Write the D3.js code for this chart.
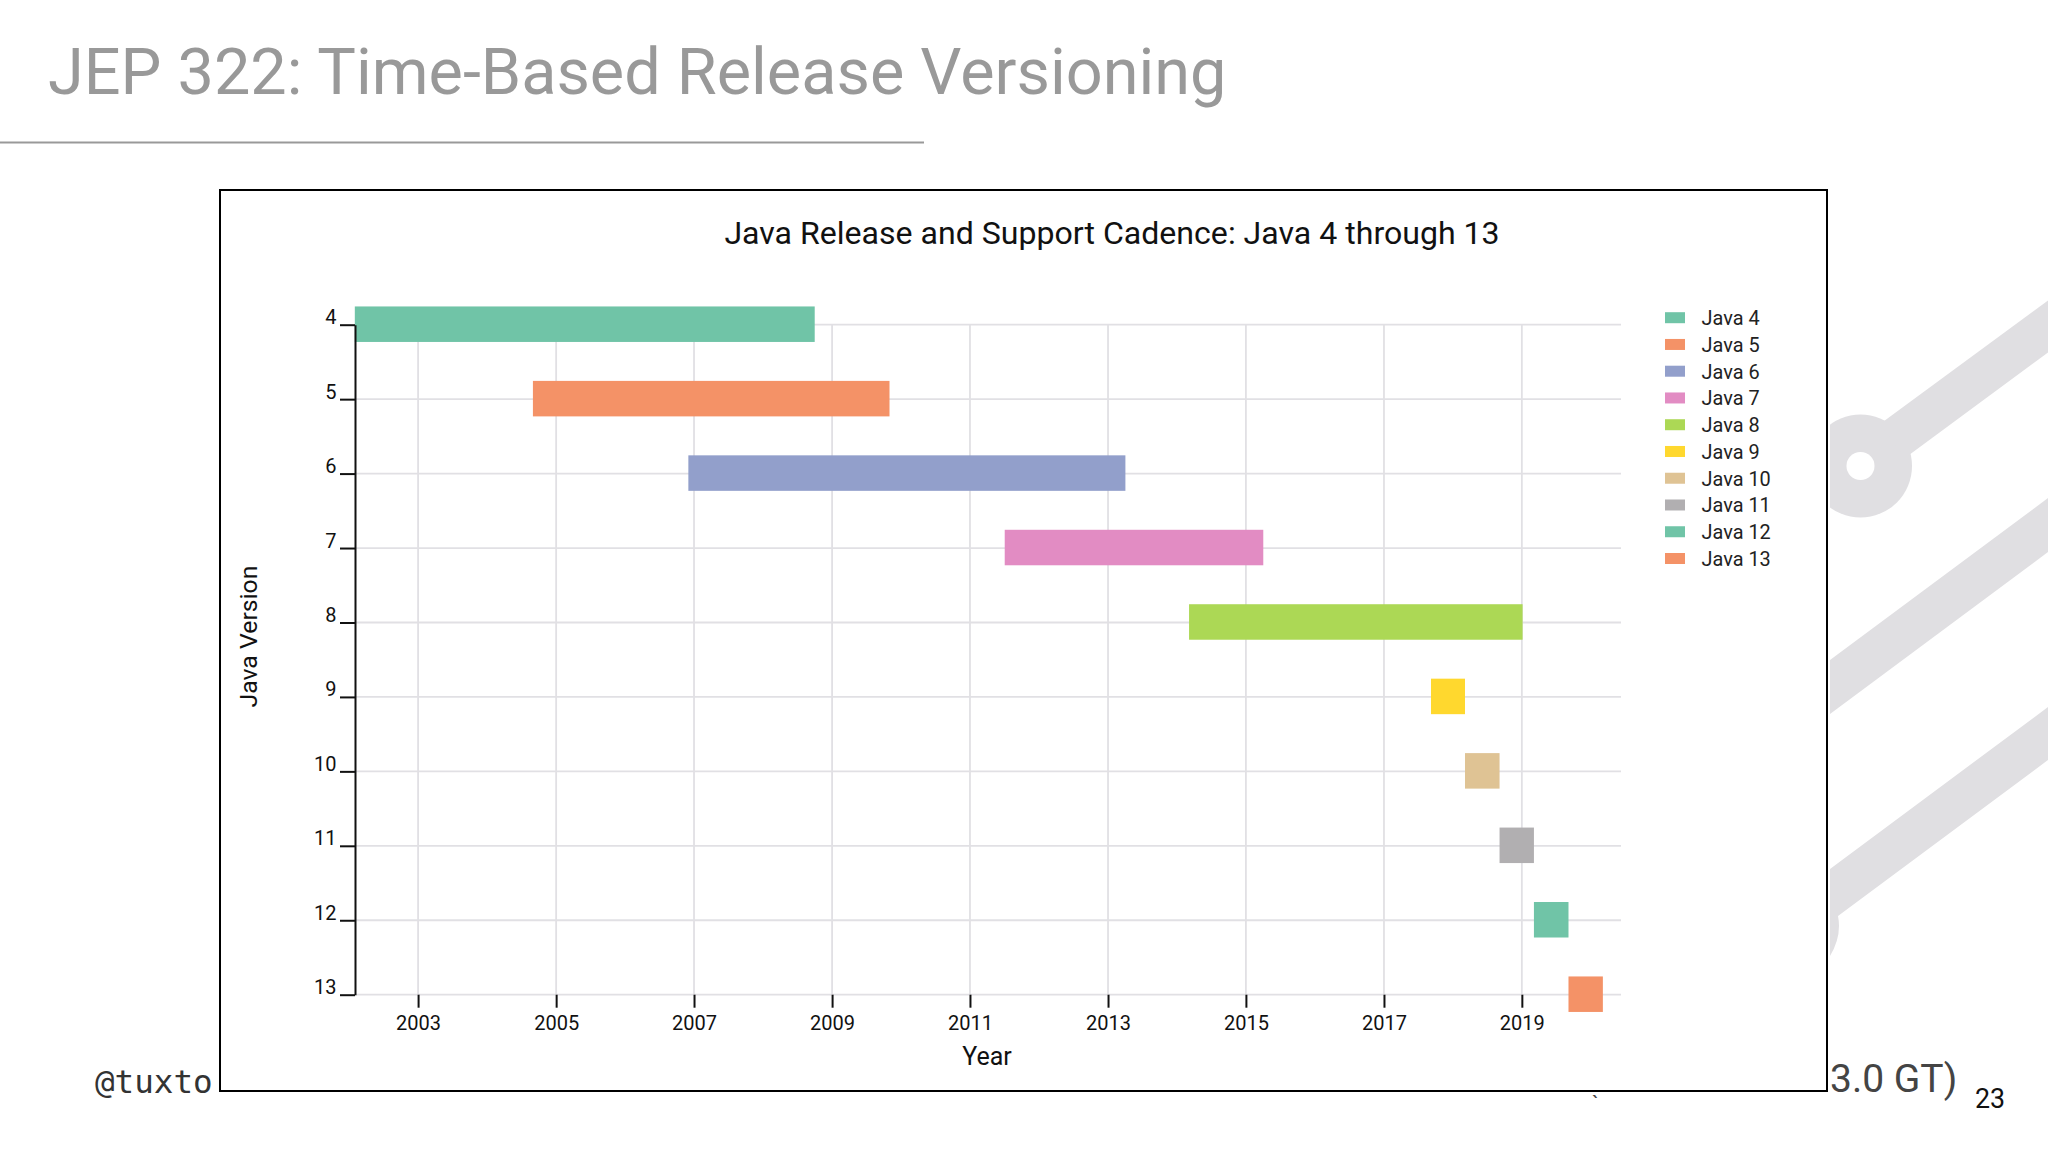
<!DOCTYPE html>
<html>
<head>
<meta charset="utf-8">
<script src="https://cdn.jsdelivr.net/npm/d3@7"></script>
<style>
  html, body { margin: 0; padding: 0; background: #fff; }
  svg { display: block; }
  text { font-family: Roboto, sans-serif; }
</style>
</head>
<body>
<div id="chart"></div>
<script>
// chart data
const versions = [4, 5, 6, 7, 8, 9, 10, 11, 12, 13];
const releaseDates = ["2002-01-31", "2004-08-31", "2006-12-02", "2011-07-04", "2014-03-06",
                      "2017-09-07", "2018-03-06", "2018-09-05", "2019-03-06", "2019-09-05"];
const supportEnds = ["2008-10-01", "2009-11-01", "2013-04-03", "2015-04-03", "2019-01-05",
                     "2018-03-06", "2018-09-05", "2019-03-06", "2019-09-05", "2020-03-05"];
const barColors = ["#70c4a7", "#f49267", "#929fcb", "#e28cc3", "#acd855",
                   "#ffd82e", "#dfc394", "#b1afb1", "#70c4a7", "#f49267"];
const yearTicks = [2003, 2005, 2007, 2009, 2011, 2013, 2015, 2017, 2019];

const width = 2048, height = 1152;
const frame = { left: 220, top: 190, right: 1827, bottom: 1091 };
const plot = { left: 355, top: 324.7, right: 1621, bottom: 994.7 };
const parseDay = d3.utcParse("%Y-%m-%d");

let svg = d3.select("#chart")
    .append("svg")
    .attr("width", width)
    .attr("height", height);

// slide background, sits behind the chart frame
let decor = svg.append("g").attr("fill", "#e0dfe2");
decor.append("circle").attr("cx", 1860.5).attr("cy", 466).attr("r", 51.5);
decor.append("path").attr("d", "M1880 424L2048 300.5V352.5L1905 458Z");
decor.append("circle").attr("cx", 1860.5).attr("cy", 466).attr("r", 14).attr("fill", "#fff");
decor.append("path").attr("d", "M1830 660L2048 498V552L1830 714Z");
decor.append("path").attr("d", "M1830 869L2048 707V760L1838 916Q1842 936 1830 956Z");
svg.append("rect").attr("x", 1827).attr("y", 300).attr("width", 3).attr("height", 760).attr("fill", "#fff");

// slide header
svg.append("text")
    .attr("x", 48).attr("y", 94)
    .attr("font-size", 64.8).attr("fill", "#999999")
    .text("JEP 322: Time-Based Release Versioning");
svg.append("line")
    .attr("x1", 0).attr("x2", 924).attr("y1", 142.5).attr("y2", 142.5)
    .attr("stroke", "#999999").attr("stroke-width", 2);

// footer text left over around the frame
svg.append("text")
    .attr("x", 95).attr("y", 1093)
    .attr("font-size", 32.6).attr("fill", "#333")
    .style("font-family", "'DejaVu Sans Mono', monospace")
    .text("@tuxto");
svg.append("text")
    .attr("x", 1830).attr("y", 1092)
    .attr("font-size", 39).attr("fill", "#444")
    .text("3.0 GT)");
svg.append("text")
    .attr("x", 1975).attr("y", 1108)
    .attr("font-size", 26.8).attr("fill", "#111")
    .text("23");
svg.append("text")
    .attr("x", 1592).attr("y", 1112)
    .attr("font-size", 22).attr("fill", "#444")
    .text("`");

// chart frame
svg.append("rect")
    .attr("x", frame.left).attr("y", frame.top)
    .attr("width", frame.right - frame.left).attr("height", frame.bottom - frame.top)
    .attr("fill", "#fff").attr("stroke", "#000").attr("stroke-width", 2);

svg.append("text")
    .attr("x", 1112).attr("y", 244)
    .attr("text-anchor", "middle")
    .attr("font-size", 32.1).attr("fill", "#111")
    .text("Java Release and Support Cadence: Java 4 through 13");

// scales
let x = d3.scaleUtc()
    .domain([parseDay("2002-02-01"), parseDay("2020-06-09")])
    .range([plot.left, plot.right]);

let y = d3.scalePoint()
    .domain(versions)
    .range([plot.top, plot.bottom]);

let color = d3.scaleOrdinal()
    .domain(versions)
    .range(barColors);

const yearDates = yearTicks.map(function(d) { return new Date(Date.UTC(d, 0, 1)); });

// grid
let grid = svg.append("g").attr("stroke", "#e1e0e4").attr("stroke-width", 1.8);
grid.selectAll(".gridx")
    .data(yearDates)
    .join("line")
    .attr("class", "gridx")
    .attr("x1", function(d) { return x(d); })
    .attr("x2", function(d) { return x(d); })
    .attr("y1", plot.top)
    .attr("y2", plot.bottom);
grid.selectAll(".gridy")
    .data(versions)
    .join("line")
    .attr("class", "gridy")
    .attr("x1", plot.left)
    .attr("x2", plot.right)
    .attr("y1", function(d) { return y(d); })
    .attr("y2", function(d) { return y(d); });

// bars
const barHeight = 35.5;
svg.append("g").selectAll("rect")
    .data(versions)
    .join("rect")
    .attr("x", function(d, i) { return x(parseDay(releaseDates[i])); })
    .attr("y", function(d) { return y(d) - barHeight / 2 - 0.5; })
    .attr("width", function(d, i) { return x(parseDay(supportEnds[i])) - x(parseDay(releaseDates[i])); })
    .attr("height", barHeight)
    .attr("fill", function(d) { return color(d); });

// axes
let xAxis = svg.append("g")
    .attr("transform", `translate(0,${plot.bottom})`)
    .call(d3.axisBottom(x).tickValues(yearDates).tickSize(13).tickPadding(8).tickFormat(d3.utcFormat("%Y")));
xAxis.select(".domain").remove();

let yAxis = svg.append("g")
    .attr("transform", `translate(${plot.left},0)`)
    .call(d3.axisLeft(y).tickSize(15).tickSizeOuter(0).tickPadding(3.5));
yAxis.selectAll(".tick text").attr("dy", "-1");

svg.selectAll(".tick text")
    .attr("font-size", 20)
    .attr("fill", "#111")
    .style("font-family", "Roboto, sans-serif");
svg.selectAll(".tick line").attr("stroke", "#111").attr("stroke-width", 2);
svg.selectAll(".domain").attr("stroke", "#111").attr("stroke-width", 2);

svg.append("text")
    .attr("x", 987).attr("y", 1065)
    .attr("text-anchor", "middle")
    .attr("font-size", 25).attr("fill", "#111")
    .text("Year");

svg.append("text")
    .attr("transform", "translate(256.5,636.5) rotate(-90)")
    .attr("text-anchor", "middle")
    .attr("font-size", 24.8).attr("fill", "#111")
    .text("Java Version");

// legend
let legendY = d3.scalePoint().domain(versions).range([317.7, 558.5]);
let legend = svg.append("g").selectAll("g")
    .data(versions)
    .join("g")
    .attr("transform", function(d) { return `translate(1665,${legendY(d)})`; });
legend.append("rect")
    .attr("y", -5.5)
    .attr("width", 20)
    .attr("height", 11)
    .attr("fill", function(d) { return color(d); });
legend.append("text")
    .attr("x", 36.5)
    .attr("y", 7.5)
    .attr("font-size", 19.9)
    .attr("fill", "#222")
    .text(function(d) { return "Java " + d; });
</script>
</body>
</html>
